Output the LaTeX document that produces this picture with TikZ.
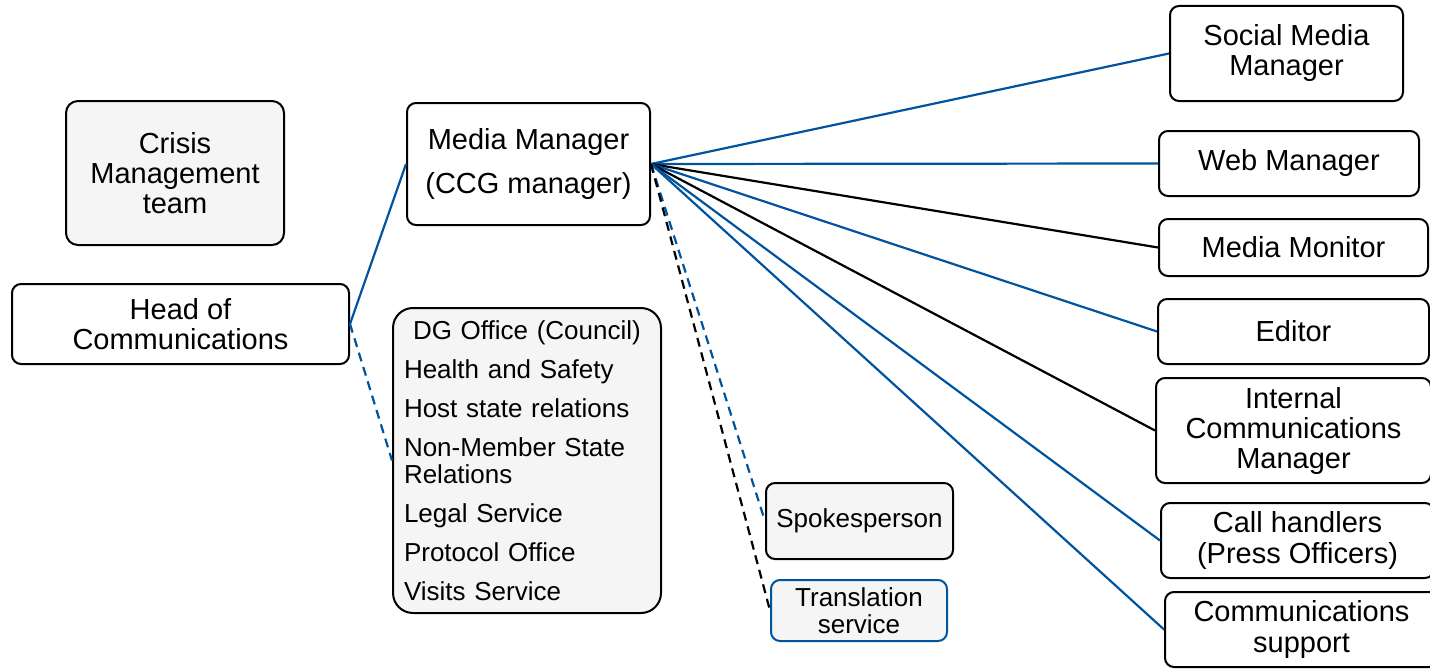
\documentclass[tikz,border=0pt]{standalone}
\usepackage{fontspec}
\setmainfont{Liberation Sans}
\definecolor{lineblue}{RGB}{0,84,159}
\definecolor{boxgray}{RGB}{245,245,245}
\newcommand\orgbig{\fontsize{29}{30}\selectfont}
\newcommand\orgsmall{\fontsize{26}{27}\selectfont}
\begin{document}
\begin{tikzpicture}[x=1pt,y=-1pt,
  box/.style={draw=black, line width=2pt, rounded corners=9pt, fill=white,
    align=center, inner sep=0pt, font=\orgbig},
  graybox/.style={box, fill=boxgray},
  link/.style={line width=2.2pt, lineblue},
  blacklink/.style={line width=2.2pt, black},
  dashlink/.style={line width=2.2pt, dash pattern=on 9pt off 6pt}]
\useasboundingbox (0,0) rectangle (1430,669);

% left-hand boxes
\node[graybox, rounded corners=12pt, minimum width=218, minimum height=144] (crisis) at (175,173) {Crisis\\Management\\team};
\node[box, minimum width=337, minimum height=80] (head) at (180.5,324) {Head of\\Communications};
\node[box, minimum width=243, minimum height=122, font=\fontsize{29}{44}\selectfont] (media) at (528.5,164) {Media Manager\\(CCG manager)};
\node[graybox, rounded corners=20pt, minimum width=268, minimum height=305, text width=246, align=left, font=\orgsmall] (dg) at (527,460.5)
  {\hspace*{9pt}DG Office (Council)\\[12pt]
   Health and Safety\\[12pt]
   Host state relations\\[12pt]
   Non-Member State\\
   Relations\\[12pt]
   Legal Service\\[12pt]
   Protocol Office\\[12pt]
   Visits Service};
\node[graybox, minimum width=187, minimum height=76, font=\orgsmall] (spokes) at (859.5,521) {Spokesperson};
\node[graybox, draw=lineblue, minimum width=176, minimum height=61, font=\orgsmall] (transl) at (859,610.5) {Translation\\service};

% right-hand column
\node[box, minimum width=233, minimum height=95] (social) at (1286.5,53.5) {Social Media\\Manager};
\node[box, minimum width=260, minimum height=65] (web) at (1289,163.5) {Web Manager};
\node[box, minimum width=269, minimum height=57] (monitor) at (1293.5,247.5) {Media Monitor};
\node[box, minimum width=271, minimum height=65] (editor) at (1293.5,331.5) {Editor};
\node[box, minimum width=275, minimum height=105] (internal) at (1293.5,430.5) {Internal\\Communications\\Manager};
\node[box, minimum width=273, minimum height=75, font=\fontsize{29}{31}\selectfont] (call) at (1297.5,540.5) {Call handlers\\(Press Officers)};
\node[box, minimum width=273, minimum height=75, font=\fontsize{29}{31}\selectfont] (comms) at (1301.5,629.5) {Communications\\support};

% connectors
\draw[link] (head.east) -- (media.west);
\draw[link, dashlink] (head.east) -- (dg.west);
\draw[link] (media.east) -- (social.west);
\draw[link] (media.east) -- (web.west);
\draw[blacklink] (media.east) -- (monitor.west);
\draw[link] (media.east) -- (editor.west);
\draw[blacklink] (media.east) -- (internal.west);
\draw[link] (media.east) -- (call.west);
\draw[link] (media.east) -- (comms.west);
\draw[link, dashlink] (media.east) -- (spokes.west);
\draw[blacklink, dashlink] (media.east) -- (transl.west);
\end{tikzpicture}
\end{document}
